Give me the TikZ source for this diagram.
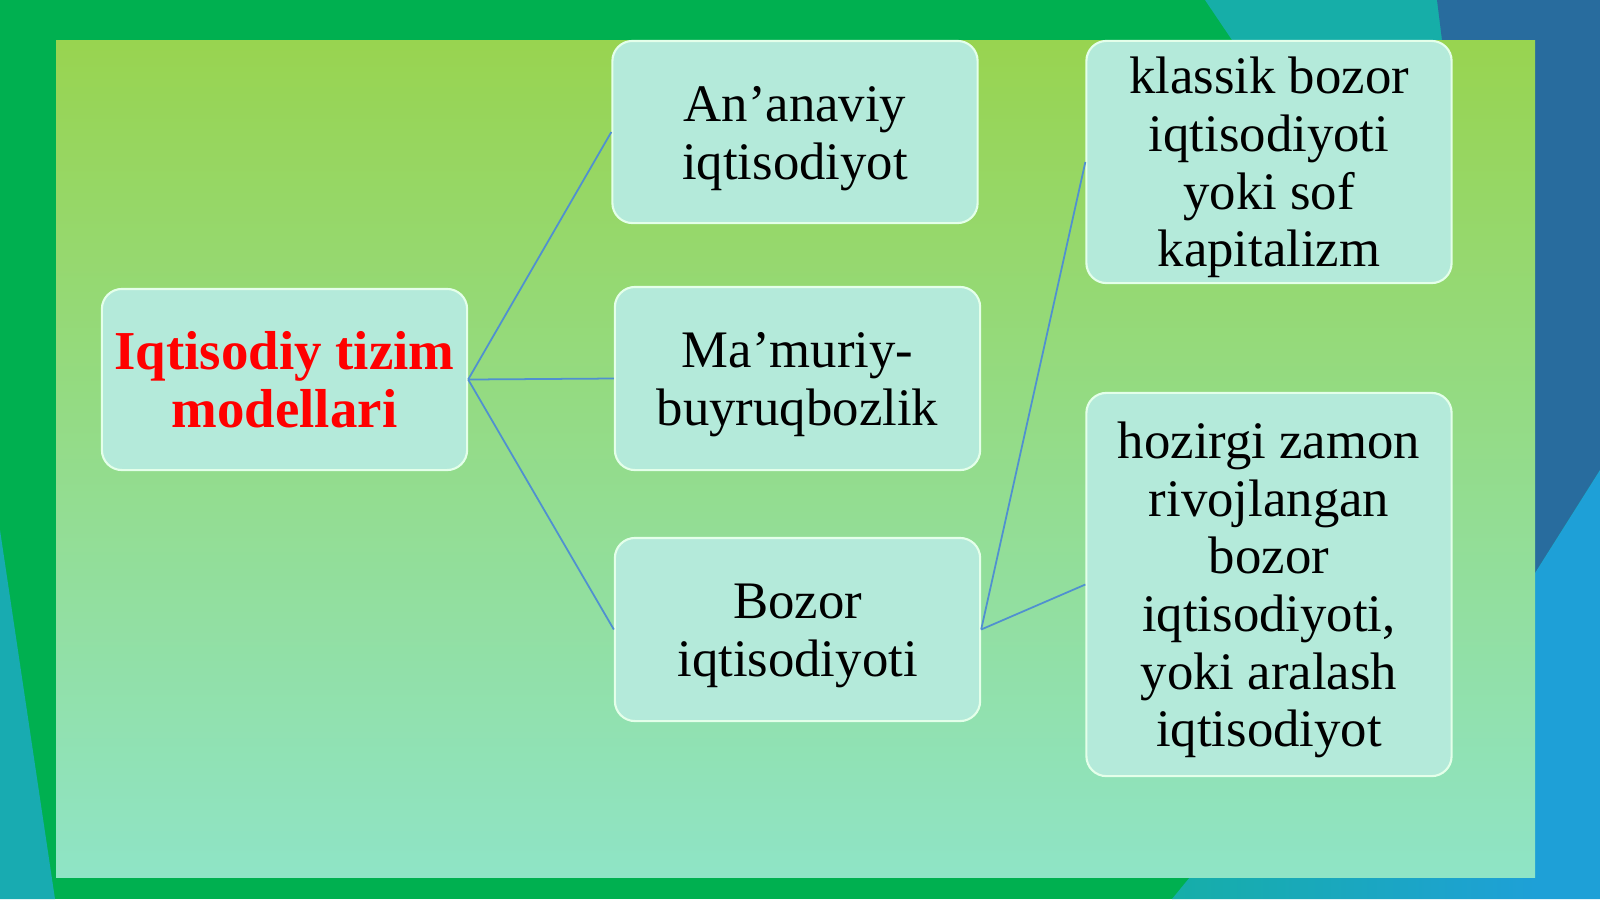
\documentclass[tikz,border=0pt]{standalone}
\usepackage{fontspec}
\setmainfont{Liberation Serif}
\usepackage{xcolor}
\usetikzlibrary{positioning}
\definecolor{slidegreen}{RGB}{0,176,80}
\definecolor{slideteal}{RGB}{22,174,168}
\definecolor{slidenavy}{RGB}{40,108,158}
\definecolor{slideblue}{RGB}{30,160,215}
\definecolor{paneltop}{RGB}{152,212,80}
\definecolor{panelmid}{RGB}{146,216,122}
\definecolor{panelbot}{RGB}{143,228,198}
\definecolor{boxfill}{RGB}{180,234,218}
\definecolor{boxline}{RGB}{228,255,234}
\definecolor{linkblue}{RGB}{80,144,208}
\newcommand{\topgap}{\rule{0pt}{13.6pt}}
\tikzset{
  modelbox/.style={draw=boxline, line width=0.6pt, fill=boxfill, rounded corners=0.2cm,
    align=center, inner sep=0pt, minimum width=3.65cm,
    font=\fontsize{15}{16.4}\selectfont},
  link/.style={linkblue, line width=0.5pt}
}
\begin{document}
\begin{tikzpicture}[x=0.01cm,y=-0.01cm]
\useasboundingbox (0,0) rectangle (1600,899);
% slide background
\fill[slidegreen] (0,0) rectangle (1600,899);
\fill[slideteal] (1205,0)--(1440,0)--(1442,40)--(1232,40)--cycle;
\fill[slidenavy] (1437,0)--(1600,0)--(1600,470)--(1535,573)--(1535,40)--(1442,40)--cycle;
\fill[slideblue] (1535,573)--(1600,470)--(1600,899)--(1535,899)--cycle;
\shade[left color=slideteal, right color=slideblue] (1190,877)--(1535,877)--(1535,899)--(1172,899)--cycle;
\fill[slideteal!80!slideblue] (0,530)--(55,899)--(0,899)--cycle;
\shade[top color=paneltop, middle color=panelmid, bottom color=panelbot] (56,40) rectangle (1535,877);
% boxes
\node[modelbox, minimum height=1.81cm, text=red, font=\fontsize{15.6}{16.4}\selectfont\bfseries] (tizim) at (284.5,379.5) {Iqtisodiy tizim\\modellari};
\node[modelbox, minimum height=1.82cm] (ananaviy) at (795,132) {\topgap An’anaviy\\iqtisodiyot};
\node[modelbox, minimum height=1.83cm] (mamuriy) at (797.5,378.5) {\topgap Ma’muriy-\\buyruqbozlik};
\node[modelbox, minimum height=1.83cm] (bozor) at (797.5,629.5) {\topgap Bozor\\iqtisodiyoti};
\node[modelbox, minimum height=2.42cm] (klassik) at (1269,162) {\topgap klassik bozor\\iqtisodiyoti\\yoki sof\\kapitalizm};
\node[modelbox, minimum height=3.83cm] (hozirgi) at (1269,584.5) {\topgap hozirgi zamon\\rivojlangan\\bozor\\iqtisodiyoti,\\yoki aralash\\iqtisodiyot};
% links
\draw[link] (tizim.east) -- (ananaviy.west);
\draw[link] (tizim.east) -- (mamuriy.west);
\draw[link] (tizim.east) -- (bozor.west);
\draw[link] (bozor.east) -- (klassik.west);
\draw[link] (bozor.east) -- (hozirgi.west);
\end{tikzpicture}
\end{document}
